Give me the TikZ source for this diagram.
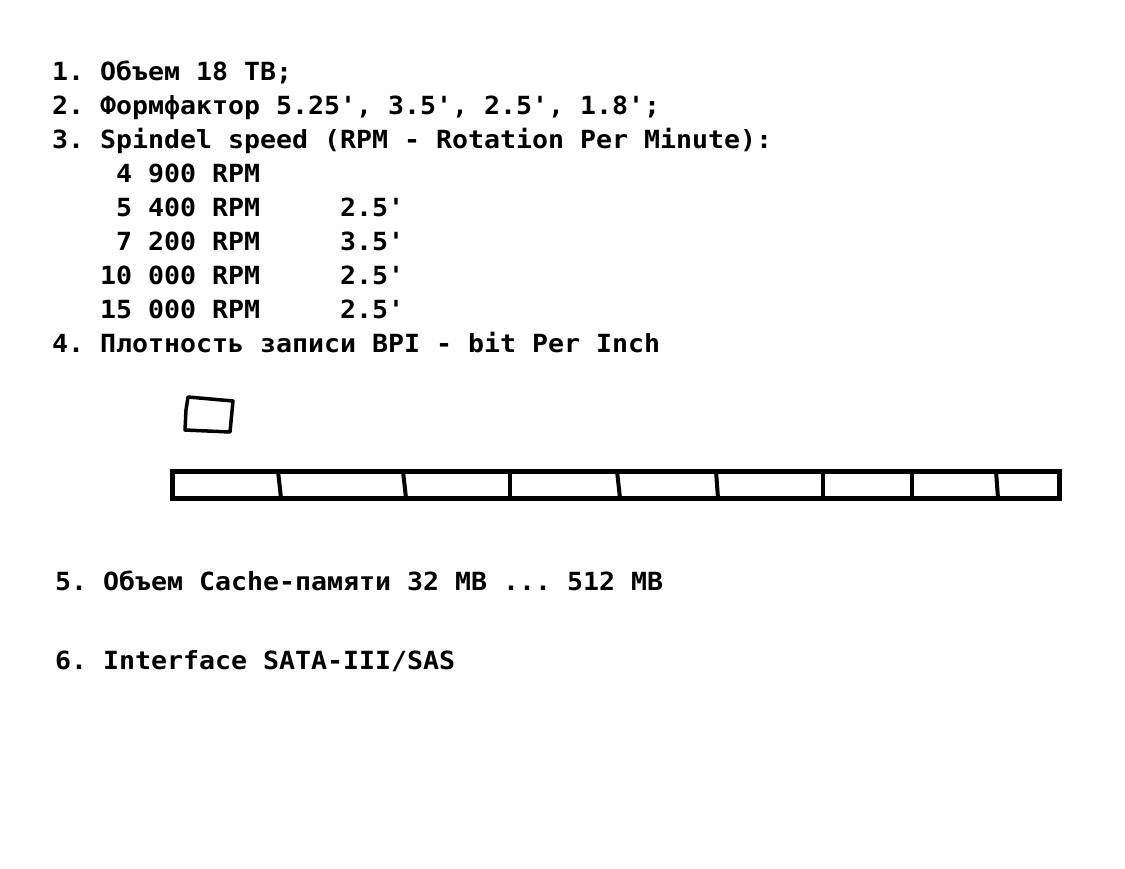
\documentclass[tikz,border=0pt]{standalone}
\usepackage{fontspec}
\usepackage{tikz}
\newfontfamily\hddfont[FakeStretch=1.063]{DejaVu Sans Mono}
\tikzset{
	txt/.style={anchor=base west, inner sep=0pt, font=\hddfont\bfseries\fontsize{25}{30}\selectfont\frenchspacing},
	pen/.style={line width=5pt, line join=round, line cap=round}
}

\begin{document}
\begin{tikzpicture}[x=1pt, y=-1pt]
	%%%%% START %%%%%
	\useasboundingbox[fill=white] (0, 0) rectangle (1125, 868);
	
	\node[txt] (cap) at (52, 80) {1. Объем 18 TB;};
	\node[txt] (form) at (52, 114) {2. Формфактор 5.25', 3.5', 2.5', 1.8';};
	\node[txt] (rpm) at (52, 148) {3. Spindel speed (RPM - Rotation Per Minute):};
	\node[txt] (rpma) at (52, 182) {~~~~4 900 RPM};
	\node[txt] (rpmb) at (52, 216) {~~~~5 400 RPM~~~~~2.5'};
	\node[txt] (rpmc) at (52, 250) {~~~~7 200 RPM~~~~~3.5'};
	\node[txt] (rpmd) at (52, 284) {~~~10 000 RPM~~~~~2.5'};
	\node[txt] (rpme) at (52, 318) {~~~15 000 RPM~~~~~2.5'};
	\node[txt] (bpi) at (52, 352) {4. Плотность записи BPI - bit Per Inch};
	
	% bit
	\draw[pen, line width=3.5pt] (188, 397) -- (233, 401) -- (230, 432) -- (185, 430) -- (186, 410) -- cycle;
	
	% track
	\draw[pen, line cap=butt, line join=miter] (172, 471) rectangle (1059, 498);
	\foreach \xa/\xb in {278/281, 403/406, 510/510, 617/620, 716/718, 823/823, 912/912, 996/998}
		\draw[pen, line width=4pt, line cap=butt] (\xa, 471) -- (\xb, 498);
	
	\node[txt] (cache) at (55, 590) {5. Объем Cache-памяти 32 MB ... 512 MB};
	\node[txt] (iface) at (55, 669) {6. Interface SATA-III/SAS};
	%%%%% END %%%%%
\end{tikzpicture}
\end{document}
